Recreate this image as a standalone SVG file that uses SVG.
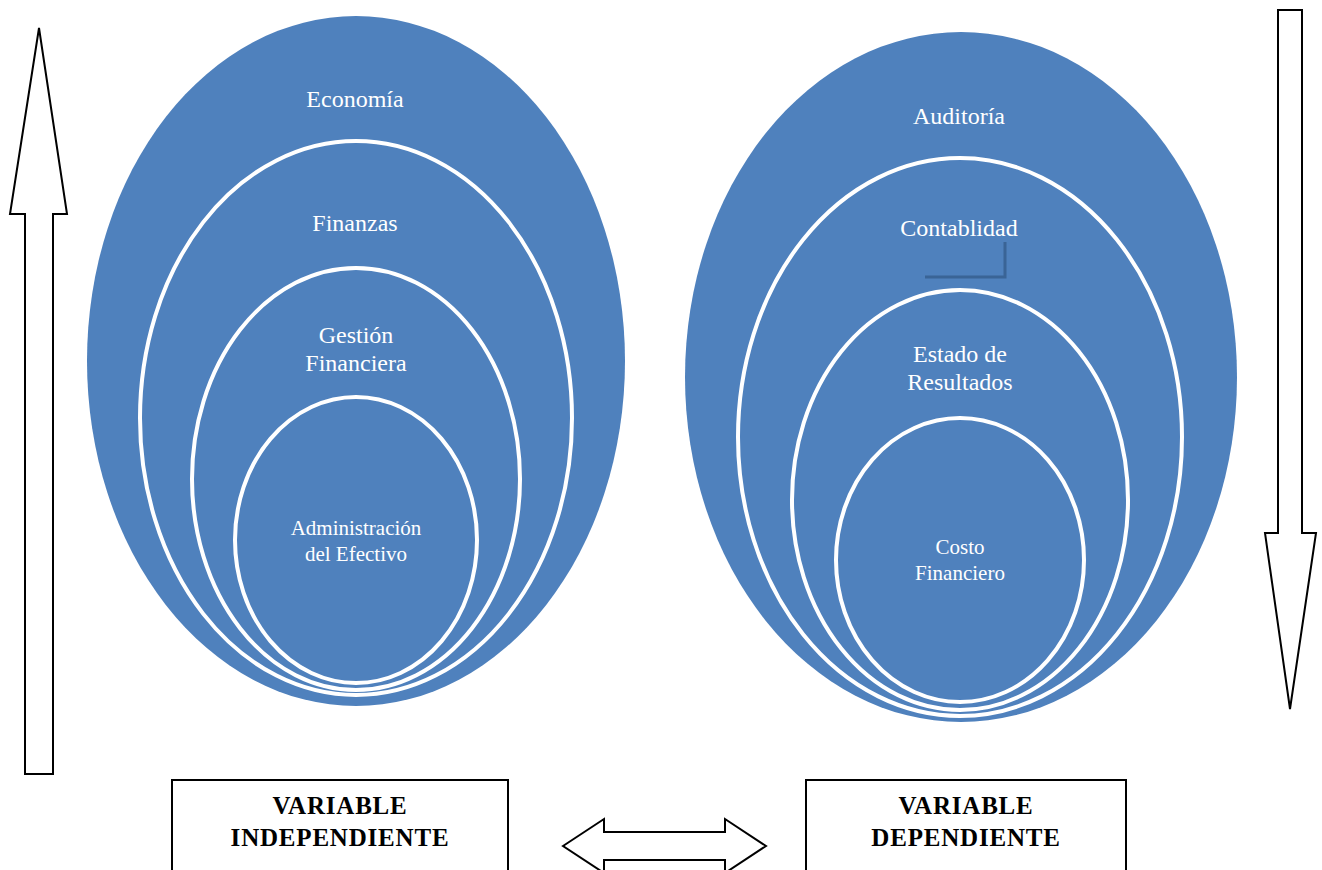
<svg xmlns="http://www.w3.org/2000/svg" width="1322" height="870" viewBox="0 0 1322 870">
  <style>
    .outer { fill: #4f81bd; }
    .ring { fill: #4f81bd; stroke: #ffffff; stroke-width: 4; }
    .lbl { fill: #ffffff; font-family: "Liberation Serif", "Times New Roman", serif; font-size: 24px; text-anchor: middle; }
    .lbl-sm { font-size: 21px; }
    .shape { fill: #ffffff; stroke: #000000; stroke-width: 2; stroke-linejoin: miter; }
    .box { fill: #ffffff; stroke: #000000; stroke-width: 2; }
    .var { fill: #000000; font-family: "Liberation Serif", "Times New Roman", serif; font-size: 25px; font-weight: bold; text-anchor: middle; letter-spacing: 0.8px; }
  </style>

  <rect width="1322" height="870" fill="#ffffff"/>

  <!-- Independent variable: nested ellipses -->
  <g id="economia">
    <ellipse class="outer" cx="356" cy="361" rx="269" ry="345"/>
    <text class="lbl" x="355" y="107">Economía</text>
  </g>
  <g id="finanzas">
    <ellipse class="ring" cx="356" cy="418" rx="216" ry="277"/>
    <text class="lbl" x="355" y="231">Finanzas</text>
  </g>
  <g id="gestion-financiera">
    <ellipse class="ring" cx="356" cy="479" rx="164" ry="211"/>
    <text class="lbl" x="356" y="343">Gestión</text>
    <text class="lbl" x="356" y="371">Financiera</text>
  </g>
  <g id="administracion-efectivo">
    <ellipse class="ring" cx="356" cy="540" rx="121" ry="143"/>
    <text class="lbl lbl-sm" x="356" y="535">Administración</text>
    <text class="lbl lbl-sm" x="356" y="561">del Efectivo</text>
  </g>

  <!-- Dependent variable: nested ellipses -->
  <g id="auditoria">
    <ellipse class="outer" cx="961" cy="377" rx="276" ry="345"/>
    <text class="lbl" x="959" y="124">Auditoría</text>
  </g>
  <g id="contabilidad">
    <ellipse class="ring" cx="960" cy="437" rx="222" ry="279"/>
    <text class="lbl" x="959" y="236">Contablidad</text>
    <path d="M925 277 H1005 V242" fill="none" stroke="#3a6496" stroke-width="3"/>
  </g>
  <g id="estado-resultados">
    <ellipse class="ring" cx="960" cy="500" rx="168" ry="210"/>
    <text class="lbl" x="960" y="362">Estado de</text>
    <text class="lbl" x="960" y="390">Resultados</text>
  </g>
  <g id="costo-financiero">
    <ellipse class="ring" cx="960" cy="560" rx="124" ry="142"/>
    <text class="lbl lbl-sm" x="960" y="554">Costo</text>
    <text class="lbl lbl-sm" x="960" y="580">Financiero</text>
  </g>

  <!-- Variable labels -->
  <g id="variable-independiente">
    <rect class="box" x="172" y="780" width="336" height="100"/>
    <text class="var" x="340" y="814">VARIABLE</text>
    <text class="var" x="340" y="846">INDEPENDIENTE</text>
  </g>
  <g id="variable-dependiente">
    <rect class="box" x="806" y="780" width="320" height="100"/>
    <text class="var" x="966" y="814">VARIABLE</text>
    <text class="var" x="966" y="846">DEPENDIENTE</text>
  </g>

  <!-- Connectors: block arrows -->
  <g id="connectors">
    <polygon class="shape" points="39,28 67,214 53,214 53,774 25,774 25,214 10,214"/>
    <polygon class="shape" points="1278,10 1302,10 1302,533 1316,533 1290,709 1265,533 1278,533"/>
    <polygon class="shape" points="563,846 604,819 604,832 725,832 725,819 766,846 725,873 725,860 604,860 604,873"/>
  </g>
</svg>
